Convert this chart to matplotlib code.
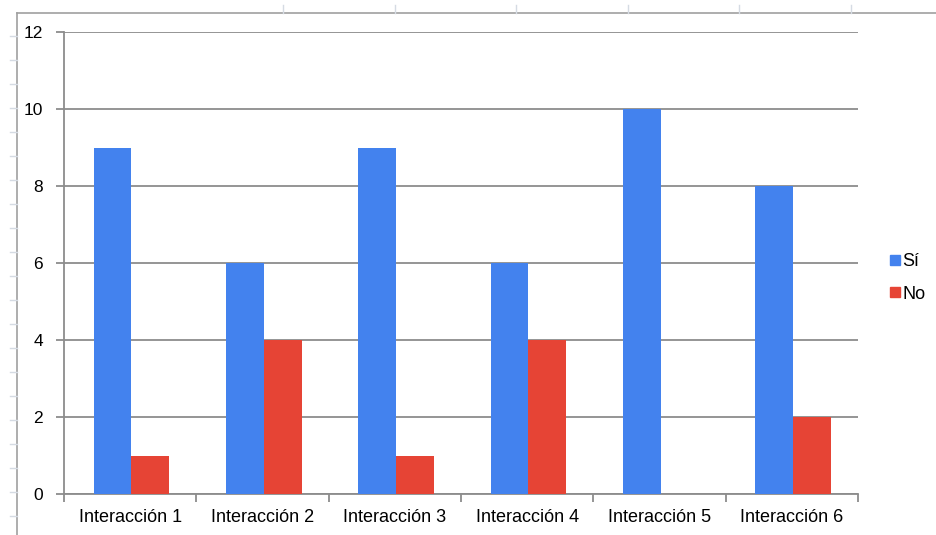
import numpy as np
import matplotlib.pyplot as plt
from matplotlib.lines import Line2D

categories = ["Interacción 1", "Interacción 2", "Interacción 3",
              "Interacción 4", "Interacción 5", "Interacción 6"]
si = [9, 6, 9, 6, 10, 8]
no = [1, 4, 1, 4, 0, 2]
series_names = ["Sí", "No"]
colors = ["#4382ee", "#e64435"]

plt.rcParams["font.family"] = ["Liberation Sans", "DejaVu Sans"]

W, H = 937, 535
fig = plt.figure(figsize=(W / 100, H / 100), dpi=100)
ax = fig.add_axes([64 / W, 1 - 494 / H, (858 - 64) / W, (494 - 32) / H])

x = np.arange(len(categories))
width = 0.285
ax.bar(x - width / 2 + 0.01, si, width, color=colors[0], zorder=3, label=series_names[0])
ax.bar(x + width / 2 + 0.01, no, width, color=colors[1], zorder=3, label=series_names[1])

ax.set_xlim(-0.5, len(categories) - 0.5)
ax.set_ylim(0, 12)
ax.set_yticks(range(0, 13, 2))
ax.set_yticklabels([str(v) for v in range(0, 13, 2)], fontsize=12.5)
ax.grid(axis="y", color="#8c8c8c", linewidth=1.3, zorder=0)

# category boundaries as x ticks, labels centred between them
ax.set_xticks(np.arange(len(categories) + 1) - 0.5)
ax.set_xticklabels([])
ax.set_xticks(x, minor=True)
ax.set_xticklabels(categories, minor=True, fontsize=13)
ax.tick_params(axis="x", which="minor", length=0, pad=11)
ax.tick_params(axis="x", which="major", length=6, color="#8c8c8c", width=1.3)
ax.tick_params(axis="y", length=6, color="#8c8c8c", width=1.3, pad=9)

for side in ["top", "right"]:
    ax.spines[side].set_visible(False)
for side in ["left", "bottom"]:
    ax.spines[side].set_color("#8c8c8c")
    ax.spines[side].set_linewidth(1.3)

handles = [Line2D([], [], marker="s", linestyle="", markersize=7.5,
                  color=c) for c in colors]
fig.legend(handles, series_names, loc="center left",
           bbox_to_anchor=(872 / W, 1 - 278 / H), frameon=False,
           fontsize=13, handletextpad=0.0, labelspacing=0.85,
           handlelength=0.8)

# spreadsheet frame left around the chart
def fig_line(xs, ys, **kw):
    fig.add_artist(Line2D([v / W for v in xs], [1 - v / H for v in ys],
                          transform=fig.transFigure, **kw))

fig_line([17, W], [13, 13], color="#a0a0a0", linewidth=1.2)
fig_line([17, 17], [13, H], color="#a0a0a0", linewidth=1.2)
for ty in range(36, H, 24):
    fig_line([10, 17], [ty, ty], color="#d5dbe3", linewidth=1)
for tx in [283, 395, 516, 628, 739, 851]:
    fig_line([tx, tx], [5, 13], color="#d5dbe3", linewidth=1)

fig.savefig("out.png", dpi=100)
